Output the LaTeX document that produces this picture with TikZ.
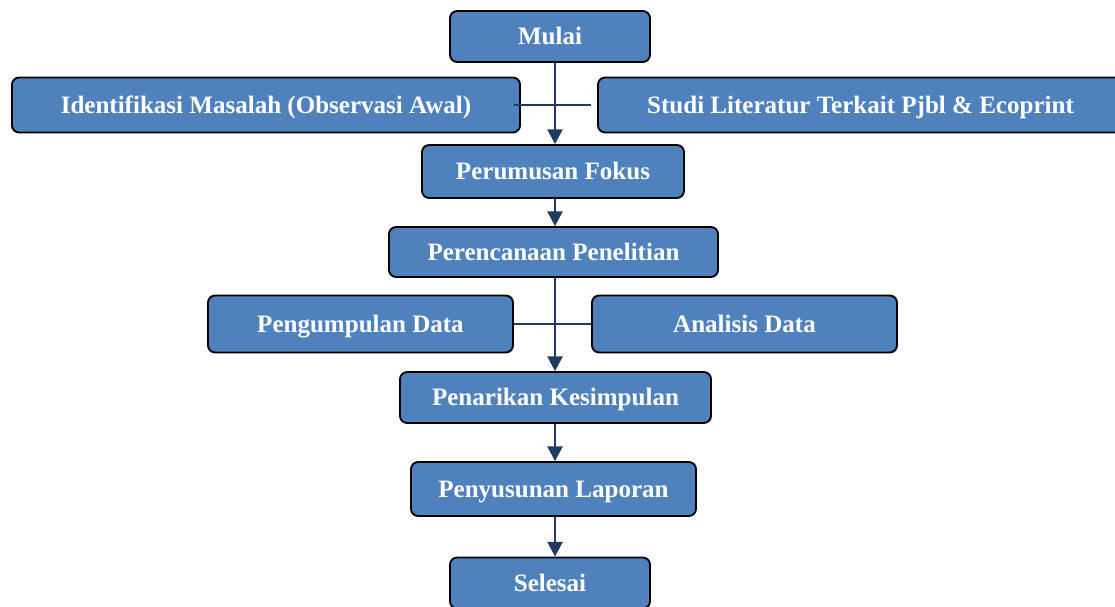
\documentclass[tikz,border=0pt]{standalone}
\usepackage{fontspec}
\setmainfont{Liberation Serif}
\usepackage{tikz}
\usetikzlibrary{arrows.meta}
\definecolor{birumuda}{HTML}{4F81BD}
\definecolor{birutua}{HTML}{1F3B63}
\tikzset{
	kotak/.style={draw=black,line width=1.3pt,fill=birumuda,rounded corners=0.18cm,inner sep=0pt,text=white,font=\fontsize{17.8}{20}\selectfont\bfseries,text height=0.42cm,text depth=0cm,align=center},
	garis/.style={draw=birutua,line width=1.5pt},
	panah/.style={garis,-{Triangle[width=0.38cm,length=0.37cm]}}
}
\begin{document}
\begin{tikzpicture}[x=0.025cm,y=-0.025cm]
		\useasboundingbox (0,0) rectangle (1115,606);
		\node[kotak,minimum width=5cm,minimum height=1.275cm] (mulai) at (550,36.5) {Mulai};
		\node[kotak,minimum width=12.7cm,minimum height=1.375cm] (ident) at (266,105) {Identifikasi Masalah (Observasi Awal)};
		\node[kotak,minimum width=13.125cm,minimum height=1.375cm] (studi) at (860.5,105) {Studi Literatur Terkait Pjbl \& Ecoprint};
		\node[kotak,minimum width=6.55cm,minimum height=1.325cm] (fokus) at (553,171.5) {Perumusan Fokus};
		\node[kotak,minimum width=8.225cm,minimum height=1.25cm] (rencana) at (553.5,252) {Perencanaan Penelitian};
		\node[kotak,minimum width=7.625cm,minimum height=1.425cm] (kumpul) at (360.5,324) {Pengumpulan Data};
		\node[kotak,minimum width=7.625cm,minimum height=1.425cm] (analisis) at (744.5,324) {Analisis Data};
		\node[kotak,minimum width=7.775cm,minimum height=1.275cm] (simpul) at (555.5,397.5) {Penarikan Kesimpulan};
		\node[kotak,minimum width=7.125cm,minimum height=1.35cm] (susun) at (553.5,489) {Penyusunan Laporan};
		\node[kotak,minimum width=5cm,minimum height=1.275cm] (selesai) at (550,583) {Selesai};
		\coordinate (poros) at (555,0);
		\draw[panah] (mulai.south -| poros)--(fokus.north -| poros);
		\draw[garis] ([xshift=-0.175cm]ident.east)--([xshift=-0.15cm]studi.west);
		\draw[panah] (fokus.south -| poros)--(rencana.north -| poros);
		\draw[panah] (rencana.south -| poros)--(simpul.north -| poros);
		\draw[garis] (kumpul.east)--(analisis.west);
		\draw[panah] (simpul.south -| poros)--(susun.north -| poros);
		\draw[panah] (susun.south -| poros)--(selesai.north -| poros);
	\end{tikzpicture}
\end{document}
